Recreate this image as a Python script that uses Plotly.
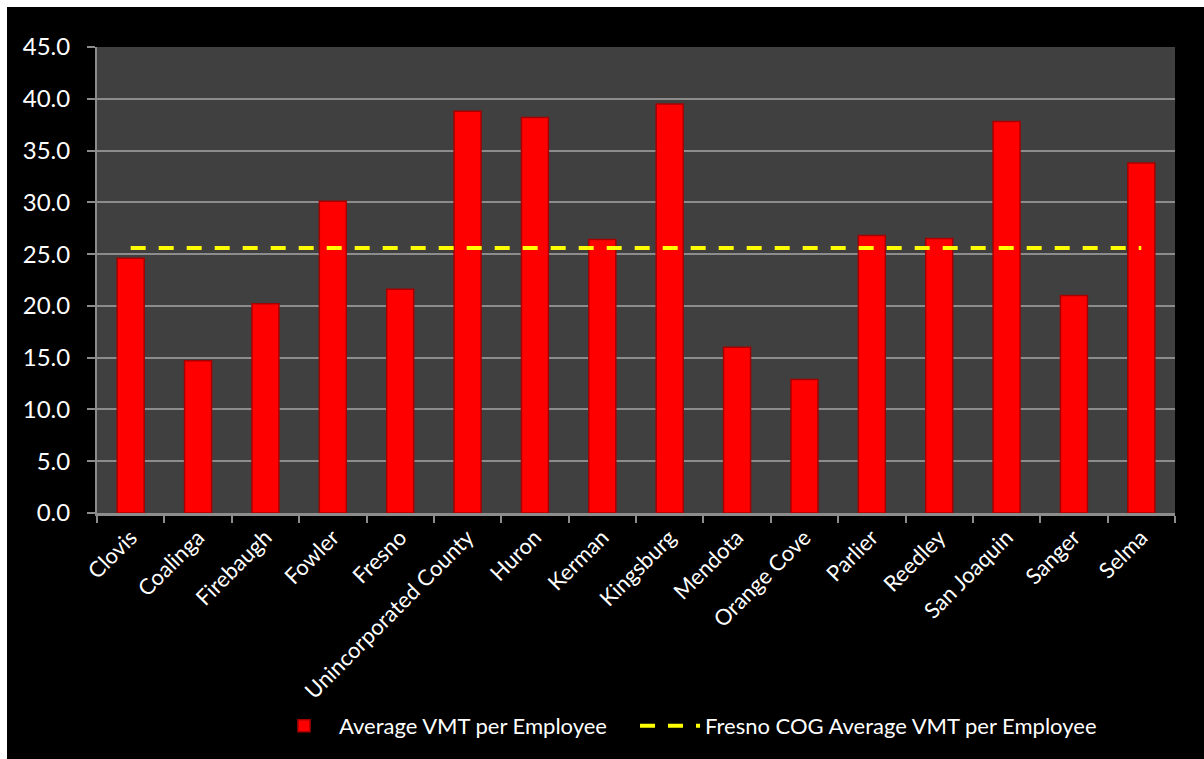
import plotly.graph_objects as go

categories = ["Clovis", "Coalinga", "Firebaugh", "Fowler", "Fresno", "Unincorporated County",
              "Huron", "Kerman", "Kingsburg", "Mendota", "Orange Cove", "Parlier",
              "Reedley", "San Joaquin", "Sanger", "Selma"]
avg_vmt = [24.6, 14.7, 20.2, 30.1, 21.6, 38.8, 38.2, 26.4, 39.5, 16.0, 12.9, 26.8,
           26.5, 37.8, 21.0, 33.8]
cog_avg = [25.6] * len(categories)

FONT = "Lato"

fig = go.Figure()
fig.add_trace(go.Bar(
    x=categories, y=avg_vmt, name="Average VMT per Employee", legend="legend",
    marker=dict(color="#FF0000", line=dict(color="#A80000", width=1.5)),
))
fig.add_trace(go.Scatter(
    x=categories, y=cog_avg, name="Fresno COG Average VMT per Employee", legend="legend2",
    mode="lines", line=dict(color="#FFFF00", width=4, dash="15px,13px"),
))

L, R, T, B = 97, 1175, 47, 513
W, H = R - L, B - T
def px(x): return (x - L) / W
def py(y): return (B - y) / H

legend_common = dict(orientation="h", yanchor="middle", xanchor="left",
                     font=dict(size=22, color="white", family=FONT),
                     bgcolor="rgba(0,0,0,0)", itemwidth=60)

fig.update_layout(
    width=1204, height=759,
    margin=dict(l=L, r=1204 - R, t=T, b=759 - B),
    paper_bgcolor="#000000", plot_bgcolor="#404040",
    bargap=0.6,
    font=dict(family=FONT, color="white", size=22),
    showlegend=True,
    legend=dict(x=px(269), y=py(726), **legend_common),
    legend2=dict(x=px(635), y=py(726), **legend_common),
    shapes=[
        dict(type="rect", xref="paper", yref="paper", x0=px(0), x1=px(7), y0=py(759), y1=py(0),
             fillcolor="white", line=dict(width=0), layer="above"),
        dict(type="rect", xref="paper", yref="paper", x0=px(0), x1=px(1204), y0=py(7), y1=py(0),
             fillcolor="white", line=dict(width=0), layer="above"),
    ],
)
fig.update_yaxes(
    range=[0, 45], dtick=5, tickformat=".1f",
    showgrid=True, gridcolor="#8C8C8C", gridwidth=2,
    showline=True, linecolor="#8C8C8C", linewidth=2,
    ticks="outside", ticklen=8, tickcolor="#8C8C8C", tickwidth=2,
    ticklabelstandoff=12,
    tickfont=dict(size=24, color="white", family=FONT), zeroline=False,
)
fig.update_xaxes(
    type="category", tickangle=-45, tickson="boundaries",
    showgrid=False, showline=True, linecolor="#8C8C8C", linewidth=3,
    ticks="outside", ticklen=7, tickcolor="#8C8C8C", tickwidth=2,
    tickfont=dict(size=22, color="white", family=FONT),
)

fig.write_html("out.html")
